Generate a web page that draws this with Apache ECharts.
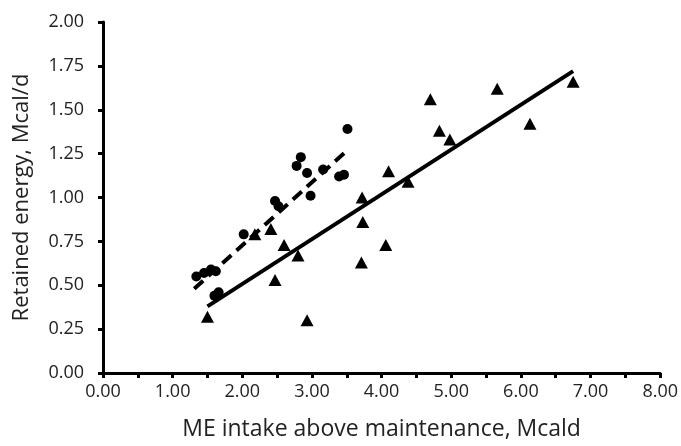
<!DOCTYPE html>
<html>
<head>
<meta charset="utf-8">
<script src="https://cdn.jsdelivr.net/npm/echarts@6/dist/echarts.min.js"></script>
<style>
	html, body { margin: 0; padding: 0; background: #fff; }
	#main { width: 681px; height: 446px; }
</style>
</head>
<body>
<div id="main"></div>
<script>
// circles (dashed fit)
var circleX = [1.34, 1.45, 1.55, 1.62, 1.60, 1.66, 2.02, 2.47, 2.52, 2.78, 2.84, 2.93, 2.98, 3.16, 3.39, 3.46, 3.51];
var circleY = [0.55, 0.57, 0.59, 0.58, 0.44, 0.46, 0.79, 0.98, 0.95, 1.18, 1.23, 1.14, 1.01, 1.16, 1.12, 1.13, 1.39];
// triangles (solid fit)
var triX = [1.50, 2.18, 2.41, 2.47, 2.60, 2.80, 2.93, 3.71, 3.72, 3.73, 4.06, 4.10, 4.38, 4.70, 4.83, 4.98, 5.66, 6.13, 6.75];
var triY = [0.32, 0.79, 0.82, 0.53, 0.73, 0.67, 0.30, 0.63, 1.00, 0.86, 0.73, 1.15, 1.09, 1.56, 1.38, 1.33, 1.62, 1.42, 1.66];
// fitted lines, end points
var dashX = [1.31, 3.51];
var dashY = [0.48, 1.27];
var solidX = [1.50, 6.75];
var solidY = [0.38, 1.72];

function pairs (xs, ys) {
	return xs.map(function (x, i) { return [x, ys[i]]; });
}

var myChart = echarts.init(document.getElementById('main'));
var font = 'Open Sans';
var option = {
	animation: false,
	grid: {
		left: 103,
		right: 19,
		top: 22,
		bottom: 73,
		containLabel: false
	},
	xAxis: {
		type: 'value',
		min: 0,
		max: 8,
		interval: 1,
		name: 'ME intake above maintenance, Mcald',
		nameLocation: 'middle',
		nameGap: 45,
		nameTextStyle: { fontFamily: font, fontSize: 23, color: '#222' },
		axisLine: { lineStyle: { color: '#000', width: 3 } },
		axisTick: { show: true, length: 5, lineStyle: { color: '#000', width: 3 } },
		minorTick: { show: true, splitNumber: 2, length: 5, lineStyle: { color: '#000', width: 3 } },
		axisLabel: {
			fontFamily: font, fontSize: 18, color: '#222', margin: 10,
			formatter: function (v) { return v.toFixed(2); }
		},
		splitLine: { show: false }
	},
	yAxis: {
		type: 'value',
		min: 0,
		max: 2,
		interval: 0.25,
		name: 'Retained energy, Mcal/d',
		nameLocation: 'middle',
		nameGap: 70,
		nameTextStyle: { fontFamily: font, fontSize: 22, color: '#222' },
		axisLine: { show: true, lineStyle: { color: '#000', width: 3 } },
		axisTick: { show: true, length: 5, lineStyle: { color: '#000', width: 3 } },
		axisLabel: {
			fontFamily: font, fontSize: 18, color: '#222', margin: 19,
			formatter: function (v) { return v.toFixed(2); }
		},
		splitLine: { show: false }
	},
	series: [
		{
			type: 'line',
			data: pairs(dashX, dashY),
			symbol: 'none',
			lineStyle: { color: '#000', width: 4, type: [12, 7] },
			z: 1
		},
		{
			type: 'line',
			data: pairs(solidX, solidY),
			symbol: 'none',
			lineStyle: { color: '#000', width: 4 },
			z: 1
		},
		{
			type: 'scatter',
			data: pairs(circleX, circleY),
			symbol: 'circle',
			symbolSize: 10,
			itemStyle: { color: '#000', opacity: 1 },
			z: 2
		},
		{
			type: 'scatter',
			data: pairs(triX, triY),
			symbol: 'triangle',
			symbolSize: [13, 12],
			itemStyle: { color: '#000', opacity: 1 },
			z: 2
		}
	]
};
myChart.setOption(option);
</script>
</body>
</html>
